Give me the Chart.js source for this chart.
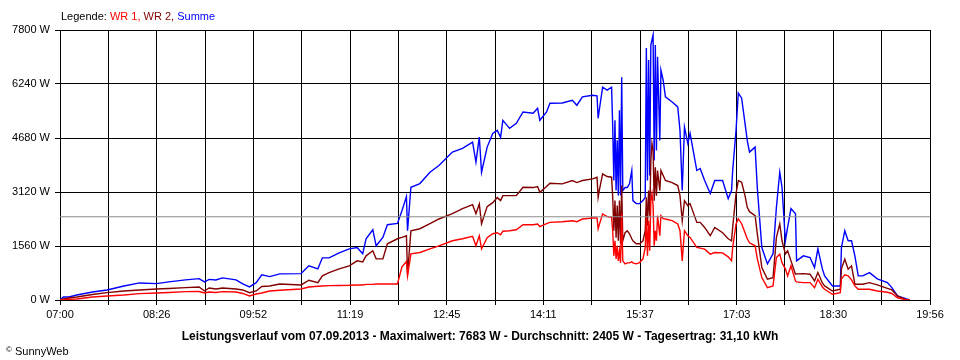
<!DOCTYPE html>
<html>
<head>
<meta charset="utf-8">
<script src="https://cdn.jsdelivr.net/npm/chart.js@4.4.0/dist/chart.umd.min.js"></script>
<style>
  body { margin: 0; background: #fff; }
  #wrap { position: relative; width: 960px; height: 360px; font-family: "Liberation Sans", Arial, sans-serif; }
  .txt { position: absolute; font-size: 11px; line-height: 13px; white-space: nowrap; color: #000; }
  #titel { font-weight: bold; font-size: 12px; left: 0; width: 960px; text-align: center; top: 330px; }
</style>
</head>
<body>
<div id="wrap">
  <canvas id="c" width="960" height="360"></canvas>
  <div class="txt" style="left:61px;top:10px">Legende: <span style="color:#ff0000">WR 1,</span> <span style="color:#800000">WR 2,</span> <span style="color:#0000ff">Summe</span></div>
  <div class="txt" id="titel">Leistungsverlauf vom 07.09.2013 - Maximalwert: 7683 W - Durchschnitt: 2405 W - Tagesertrag: 31,10 kWh</div>
  <div class="txt" style="left:6px;top:343px"><span style="font-size:8px;vertical-align:3px">©</span> SunnyWeb</div>
</div>
<script>
// Werte (W)
const zeit = [
  '07:00','07:03','07:08','07:15','07:29','07:42','07:57','08:11','08:26','08:37',
  '08:52','09:04','09:09','09:13','09:19','09:25','09:37','09:43','09:49','09:55',
  '10:00','10:07','10:16','10:35','10:42','10:50','10:54','11:00','11:09','11:18',
  '11:25','11:30','11:33','11:39','11:42','11:48','11:52','12:01','12:05','12:09',
  '12:10','12:13','12:21','12:30','12:38','12:50','12:59','13:08','13:11','13:14',
  '13:16','13:21','13:26','13:30','13:33','13:35','13:41','13:47','13:53','14:02',
  '14:06','14:08','14:14','14:17','14:28','14:37','14:41','14:46','14:55','14:59',
  '15:00','15:01','15:04','15:08','15:12','15:13','15:14','15:15','15:16','15:17',
  '15:18','15:19','15:20','15:21','15:22','15:24','15:26','15:28','15:30','15:31',
  '15:34','15:37','15:40','15:42','15:43','15:44','15:45','15:46','15:47','15:48',
  '15:49','15:50','15:51','15:52','15:53','15:55','15:56','15:58','16:00','16:06',
  '16:11','16:13','16:15','16:17','16:20','16:22','16:28','16:31','16:35','16:40',
  '16:44','16:51','16:56','16:59','17:00','17:03','17:05','17:08','17:11','17:13',
  '17:15','17:20','17:22','17:26','17:31','17:36','17:39','17:42','17:44','17:47',
  '17:49','17:52','17:56','17:57','18:03','18:09','18:13','18:16','18:20','18:22',
  '18:29','18:36','18:37','18:40','18:43','18:46','18:49','18:52','18:56','19:02',
  '19:09','19:18','19:22','19:27','19:35','19:38'
]

const summe = [
  0,87,87,145,232,290,406,493,473,522,
  580,618,522,595,580,638,580,464,377,502,
  725,676,754,763,986,899,1218,1218,1363,1479,
  1517,1334,1769,2030,1566,1807,2175,2213,2581,2987,
  2001,3257,3364,3692,3886,4272,4379,4562,3982,4707,
  3692,4417,4814,4901,4698,5191,4959,5104,5432,5394,
  5539,5191,5432,5684,5693,5771,5626,5867,5916,5896,
  5249,5481,6148,6061,6148,4997,3451,5191,3161,4611,
  3016,5481,3016,6438,3161,3248,3248,3364,3741,2871,
  2784,2784,2871,2967,7279,3451,6931,3596,7366,7511,
  7656,4031,7366,4321,7027,4611,6641,6351,5867,5722,
  5577,4901,3161,4997,4524,4814,3741,3799,3451,3074,
  3451,3451,2929,3161,3741,4901,5974,5829,5104,4611,
  4272,4417,3219,1517,1044,1334,2677,3692,3257,1711,
  2097,2639,2494,1131,1276,1227,937,1479,899,696,
  406,406,1517,2001,1711,1711,1276,696,696,792,
  609,502,357,116,29,0
]

const wr2 = [
  0,29,58,87,160,212,261,290,319,334,
  357,377,261,348,319,348,319,290,212,261,
  392,406,464,435,571,502,696,792,899,986,
  1131,1102,1276,1421,1189,1189,1624,1769,1807,1856,
  754,2001,2059,2204,2340,2494,2639,2755,2494,2775,
  2204,2697,2813,2958,2871,3016,3016,3016,3257,3248,
  3277,3112,3277,3373,3355,3451,3393,3451,3500,3547,
  2967,3161,3645,3567,3547,2967,2001,2871,1798,2726,
  1711,2871,1624,3306,1711,1943,2001,1914,1769,1711,
  1624,1624,1711,2001,2967,2146,3161,2436,4031,4524,
  4321,2871,3837,3016,3741,3161,3741,3596,3451,3393,
  3306,3016,2291,2871,2726,2784,2242,2242,2097,1856,
  2097,1943,1769,1711,2097,3074,3451,3402,3016,2677,
  2552,2436,1905,937,600,647,1807,2195,1711,1334,
  1421,1131,745,754,763,745,551,792,493,406,
  261,310,899,1180,890,986,455,455,455,502,
  435,334,290,116,0,0
]

const wr1 = [
  0,0,20,29,87,116,145,183,203,218,
  241,247,203,232,218,241,232,189,116,174,
  203,261,281,319,377,397,406,415,421,426,
  435,435,450,450,464,464,464,464,957,1111,
  696,1334,1372,1479,1566,1711,1769,1842,1566,1856,
  1479,1798,1914,1943,1885,1987,2001,2030,2175,2175,
  2195,2117,2204,2242,2262,2291,2262,2340,2369,2369,
  2059,2175,2485,2407,2387,2001,1276,1711,1189,1566,
  1131,1421,1073,2494,1131,1044,1073,1073,1102,1073,
  1044,1082,1189,1517,2387,1276,2291,1421,2871,3074,
  2726,1566,2001,1711,2436,1856,2436,2349,2340,2291,
  2195,2001,1131,2001,1856,1807,1517,1499,1470,1325,
  1372,1363,1247,1131,1517,2195,2349,2204,1943,1769,
  1653,1566,1189,647,357,406,1227,1325,1073,899,
  696,986,551,522,502,502,357,600,377,310,
  165,212,609,725,696,580,406,310,310,310,
  261,223,189,64,0,0
]

const xLabels = ['07:00','08:26','09:52','11:19','12:45','14:11','15:37','17:03','18:30','19:56']
const yTicks = [0, 1560, 3120, 4680, 6240, 7800]
const durchschnitt = 2405
const tagesDauer = 776   // Minuten von 07:00 bis 19:56
const xTeile = 18

function toMin(z) {
    let p = z.split(':')
    return (parseInt(p[0]) - 7) * 60 + parseInt(p[1])
}

function punkte(werte) {
    return werte.map((v, i) => ({ x: toMin(zeit[i]), y: v }))
}

Chart.defaults.font.family = '"Liberation Sans", Arial, sans-serif'
Chart.defaults.font.size = 11
Chart.defaults.color = '#000'

const linie = { borderWidth: 1.4, pointRadius: 0, tension: 0, fill: false }

const data = {
    datasets: [
        { ...linie, borderWidth: 1, label: 'Durchschnitt', data: [{ x: 0, y: durchschnitt }, { x: tagesDauer, y: durchschnitt }], borderColor: '#8c8c8c' },
        { ...linie, label: 'WR 1', data: punkte(wr1), borderColor: '#ff0000' },
        { ...linie, label: 'WR 2', data: punkte(wr2), borderColor: '#800000' },
        { ...linie, label: 'Summe', data: punkte(summe), borderColor: '#0000ff' }
    ]
}

const config = {
    type: 'line',
    data: data,
    options: {
        responsive: false,
        animation: false,
        devicePixelRatio: 1,
        parsing: false,
        layout: { padding: { left: 0, right: 30, top: 30, bottom: 30 } },
        plugins: { legend: { display: false }, tooltip: { enabled: false } },
        scales: {
            x: {
                type: 'linear',
                min: 0,
                max: tagesDauer,
                afterBuildTicks: s => { s.ticks = Array.from({ length: xTeile + 1 }, (_, i) => ({ value: i * tagesDauer / xTeile })) },
                afterFit: s => { s.height = 30 },
                grid: { color: '#000', lineWidth: 1, tickLength: 5 },
                border: { color: '#000' },
                ticks: {
                    autoSkip: false, maxRotation: 0, padding: 3,
                    callback: (v, i) => i % 2 === 0 ? xLabels[i / 2] : ''
                }
            },
            y: {
                min: 0,
                max: 7800,
                afterBuildTicks: s => { s.ticks = yTicks.map(v => ({ value: v })) },
                afterFit: s => { s.width = 60 },
                grid: { color: '#000', lineWidth: 1, tickLength: 5 },
                border: { color: '#000' },
                ticks: { padding: 5, callback: v => v + ' W' }
            }
        }
    }
}

let ctx = document.getElementById('c').getContext('2d')
new Chart(ctx, config)
</script>
</body>
</html>
